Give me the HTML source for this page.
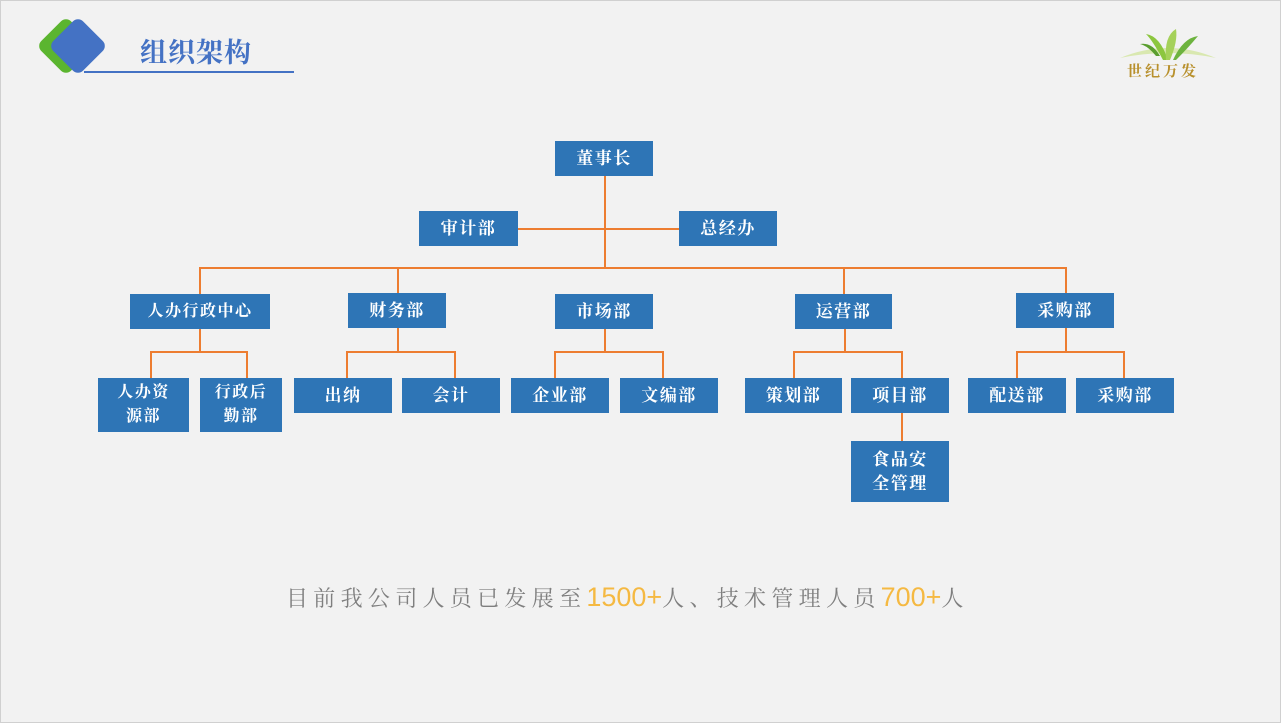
<!DOCTYPE html>
<html><head><meta charset="utf-8"><style>
body{margin:0;width:1281px;height:723px;background:#f2f2f2;position:relative;overflow:hidden;font-family:"Liberation Serif","Noto Serif CJK SC",serif}
.frame{position:absolute;left:0;top:0;width:1279px;height:721px;border:1px solid #d0d0d0}
.b{position:absolute;background:#2e75b6;color:#fff;font-weight:bold;font-size:17px;display:flex;align-items:center;justify-content:center;text-align:center;letter-spacing:1.5px;line-height:24px}
.l{position:absolute;background:#ed7d31}
.h{height:2px}.v{width:2px}
.t{position:absolute;top:581px;font-size:22px;color:#7f7f7f;white-space:nowrap;letter-spacing:5.3px;line-height:32px}
.n{font-family:"Liberation Sans",sans-serif;color:#f5b942;font-size:27px;letter-spacing:0}
</style></head><body>
<div class="frame"></div>
<div style="position:absolute;left:45px;top:25px;width:42px;height:42px;background:#5bb52f;border-radius:7px;transform:rotate(45deg)"></div>
<div style="position:absolute;left:57px;top:25px;width:42px;height:42px;background:#4472c4;border-radius:7px;transform:rotate(45deg)"></div>
<div style="position:absolute;left:84px;top:71px;width:210px;height:2px;background:#4472c4"></div>
<div style="position:absolute;left:140px;top:31px;font-size:27px;color:#4472c4;font-weight:bold;letter-spacing:1px">组织架构</div>
<svg style="position:absolute;left:1118px;top:26px" width="100" height="38"><path d="M2 32 Q50 12 98 32 Q50 22 2 32Z" fill="#d9e8b0"/><path d="M45 34 Q35 15 28 8 Q42 10 50 34Z" fill="#8cc63f"/><path d="M55 34 Q65 12 80 10 Q70 22 58 34Z" fill="#6db33f"/><path d="M48 34 Q46 10 58 3 Q60 15 52 34Z" fill="#a5d15a"/><path d="M38 30 Q30 20 22 18 Q34 16 42 30Z" fill="#5a9e2f"/></svg>
<div style="position:absolute;left:1127px;top:60px;font-size:15px;color:#b8902c;font-weight:bold;letter-spacing:3px">世纪万发</div>

<div class="l v" style="left:604px;top:176px;height:92px"></div>
<div class="l h" style="left:518px;top:228px;width:161px"></div>
<div class="l h" style="left:199px;top:267px;width:868px"></div>
<div class="l v" style="left:199px;top:267px;height:27px"></div>
<div class="l v" style="left:397px;top:267px;height:27px"></div>
<div class="l v" style="left:843px;top:267px;height:27px"></div>
<div class="l v" style="left:1065px;top:267px;height:27px"></div>
<div class="l v" style="left:199px;top:329px;height:23px"></div><div class="l h" style="left:150px;top:351px;width:98px"></div><div class="l v" style="left:150px;top:351px;height:27px"></div><div class="l v" style="left:246px;top:351px;height:27px"></div>
<div class="l v" style="left:397px;top:328px;height:24px"></div><div class="l h" style="left:346px;top:351px;width:110px"></div><div class="l v" style="left:346px;top:351px;height:27px"></div><div class="l v" style="left:454px;top:351px;height:27px"></div>
<div class="l v" style="left:604px;top:329px;height:23px"></div><div class="l h" style="left:554px;top:351px;width:110px"></div><div class="l v" style="left:554px;top:351px;height:27px"></div><div class="l v" style="left:662px;top:351px;height:27px"></div>
<div class="l v" style="left:844px;top:329px;height:23px"></div><div class="l h" style="left:793px;top:351px;width:110px"></div><div class="l v" style="left:793px;top:351px;height:27px"></div><div class="l v" style="left:901px;top:351px;height:27px"></div>
<div class="l v" style="left:1065px;top:328px;height:24px"></div><div class="l h" style="left:1016px;top:351px;width:109px"></div><div class="l v" style="left:1016px;top:351px;height:27px"></div><div class="l v" style="left:1123px;top:351px;height:27px"></div>
<div class="l v" style="left:901px;top:413px;height:28px"></div>

<div class="b" style="left:555px;top:141px;width:98px;height:35px">董事长</div>
<div class="b" style="left:419px;top:211px;width:99px;height:35px">审计部</div>
<div class="b" style="left:679px;top:211px;width:98px;height:35px">总经办</div>
<div class="b" style="left:130px;top:294px;width:140px;height:35px;font-size:16px">人办行政中心</div>
<div class="b" style="left:348px;top:293px;width:98px;height:35px">财务部</div>
<div class="b" style="left:555px;top:294px;width:98px;height:35px">市场部</div>
<div class="b" style="left:795px;top:294px;width:97px;height:35px">运营部</div>
<div class="b" style="left:1016px;top:293px;width:98px;height:35px">采购部</div>
<div class="b" style="left:98px;top:378px;width:91px;height:54px;font-size:16px">人办资<br>源部</div>
<div class="b" style="left:200px;top:378px;width:82px;height:54px;font-size:16px">行政后<br>勤部</div>
<div class="b" style="left:294px;top:378px;width:98px;height:35px">出纳</div>
<div class="b" style="left:402px;top:378px;width:98px;height:35px">会计</div>
<div class="b" style="left:511px;top:378px;width:98px;height:35px">企业部</div>
<div class="b" style="left:620px;top:378px;width:98px;height:35px">文编部</div>
<div class="b" style="left:745px;top:378px;width:97px;height:35px">策划部</div>
<div class="b" style="left:851px;top:378px;width:98px;height:35px">项目部</div>
<div class="b" style="left:968px;top:378px;width:98px;height:35px">配送部</div>
<div class="b" style="left:1076px;top:378px;width:98px;height:35px">采购部</div>
<div class="b" style="left:851px;top:441px;width:98px;height:61px">食品安<br>全管理</div>

<div class="t" style="left:286px">目前我公司人员已发展至<span class="n">1500+</span>人、技术管理人员<span class="n">700+</span>人</div>
</body></html>
